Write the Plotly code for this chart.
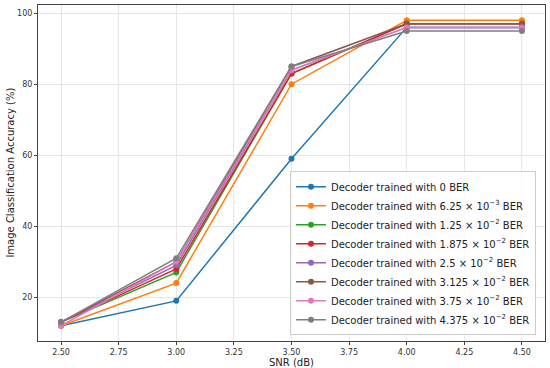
import plotly.graph_objects as go

snr = [2.5, 3.0, 3.5, 4.0, 4.5]
names = [
    "Decoder trained with 0 BER",
    "Decoder trained with 6.25 × 10<sup>−3</sup> BER",
    "Decoder trained with 1.25 × 10<sup>−2</sup> BER",
    "Decoder trained with 1.875 × 10<sup>−2</sup> BER",
    "Decoder trained with 2.5 × 10<sup>−2</sup> BER",
    "Decoder trained with 3.125 × 10<sup>−2</sup> BER",
    "Decoder trained with 3.75 × 10<sup>−2</sup> BER",
    "Decoder trained with 4.375 × 10<sup>−2</sup> BER",
]
acc_0 = [12, 19, 59, 96, 96]
acc_625e3 = [12, 24, 80, 98, 98]
acc_125e2 = [13, 27, 83, 97, 97]
acc_1875e2 = [13, 28, 83, 97, 97]
acc_25e2 = [13, 29, 84, 96, 96]
acc_3125e2 = [13, 30, 85, 97, 97]
acc_375e2 = [12, 30, 84, 96, 96]
acc_4375e2 = [13, 31, 85, 95, 95]
series = [acc_0, acc_625e3, acc_125e2, acc_1875e2, acc_25e2, acc_3125e2, acc_375e2, acc_4375e2]
colors = ["#1f77b4", "#ff7f0e", "#2ca02c", "#d62728", "#9467bd", "#8c564b", "#e377c2", "#7f7f7f"]

fig = go.Figure()
for name, ys, c in zip(names, series, colors):
    fig.add_trace(go.Scatter(x=snr, y=ys, name=name, mode="lines+markers",
                             line=dict(color=c, width=1.5),
                             marker=dict(color=c, size=6)))

axis_common = dict(showline=True, linecolor="#444", linewidth=1, mirror=True,
                   ticks="outside", ticklen=3, tickcolor="#444", automargin=False,
                   showgrid=True, gridcolor="#e6e6e6", gridwidth=1,
                   zeroline=False, tickfont=dict(size=8, color="#333"))

fig.update_layout(
    width=550, height=368,
    margin=dict(l=38, r=5, t=5, b=27),
    plot_bgcolor="white", paper_bgcolor="white",
    font=dict(family="DejaVu Sans", color="#222"),
    xaxis=dict(range=[2.4, 4.6], tickvals=[2.5, 2.75, 3.0, 3.25, 3.5, 3.75, 4.0, 4.25, 4.5],
               tickformat=".2f", **axis_common),
    yaxis=dict(range=[7.7, 102.3], tickvals=[20, 40, 60, 80, 100], **axis_common),
    legend=dict(x=0.497, y=0.017, xanchor="left", yanchor="bottom",
                bgcolor="rgba(255,255,255,0.8)", bordercolor="#ccc", borderwidth=1,
                font=dict(size=10, color="#222"), tracegroupgap=0, itemwidth=30),
    showlegend=True,
    annotations=[
        dict(text="SNR (dB)", xref="paper", yref="paper", x=0.5, y=-0.063,
             xanchor="center", yanchor="middle", showarrow=False, font=dict(size=10)),
        dict(text="Image Classification Accuracy (%)", xref="paper", yref="paper",
             x=-0.056, y=0.5, xanchor="center", yanchor="middle", textangle=-90,
             showarrow=False, font=dict(size=10)),
    ],
)

fig.write_html("out.html", config={"displayModeBar": False},
               post_script="document.body.style.margin='0';document.body.style.overflow='hidden';")
